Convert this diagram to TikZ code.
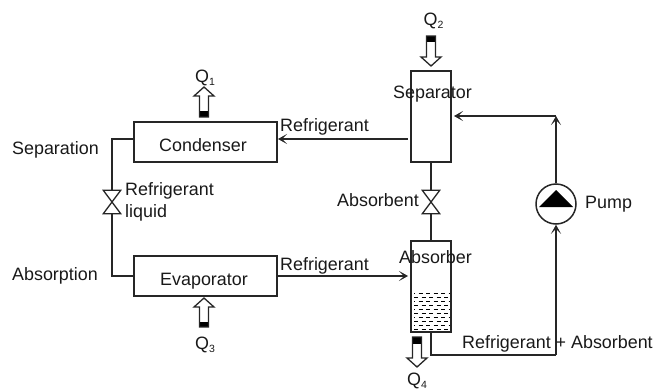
\documentclass[tikz,border=0pt]{standalone}
\usepackage{fontspec}
\setmainfont{Liberation Sans}
\usetikzlibrary{arrows.meta}
\newcommand{\hollowarrow}[5]{% x, tail y, tip y, black end y, name
  \pgfmathsetmacro{\dirn}{(#3>#2)?1:-1}
  \pgfmathsetmacro{\neck}{#3-\dirn*9}
  \coordinate (#5) at (#1,#3);
  \fill[black] (#1-4.5,#2) rectangle (#1+4.5,#4);
  \draw[lw] (#1-4.5,#2) -- (#1-4.5,\neck) -- (#1-10,\neck) -- (#5)
     -- (#1+10,\neck) -- (#1+4.5,\neck) -- (#1+4.5,#2) -- cycle;
}
\newcommand{\qsub}[1]{Q\raisebox{-3pt}{\fontsize{10.5}{12}\selectfont #1}}
\tikzset{
  lw/.style={line width=1.3pt,draw=black!85,line join=miter},
  unit/.style={draw=black!85,line width=1.5pt,inner sep=0pt,fill=none},
  txt/.style={font=\fontsize{17.9}{20}\selectfont,inner sep=0pt,text=black!90},
  valve/.style={minimum width=17pt,minimum height=23pt,inner sep=0pt},
  flow/.style={lw,-{Stealth[length=9pt,width=10pt,inset=5pt]}},
  liq/.style={draw=black,line width=0.8pt,dash pattern=on 4pt off 3.5pt},
}
\begin{document}
\begin{tikzpicture}[x=1pt,y=-1pt]
\useasboundingbox (0,0) rectangle (654,391);
% units
\node[unit,minimum width=143pt,minimum height=40pt] (cond) at (205.5,142) {};
\node[unit,minimum width=143pt,minimum height=40pt] (evap) at (205.5,276) {};
\node[unit,minimum width=40pt,minimum height=91pt] (sep) at (431,116.5) {};
\node[unit,minimum width=40pt,minimum height=91pt] (abs) at (431,286.5) {};
\node[circle,draw=black!85,line width=1.5pt,minimum size=40pt,inner sep=0pt] (pump) at (556,204) {};
\fill[black] (556,190) -- (573,207) -- (539,207) -- cycle;
% valves
\node[valve] (v1) at (112,202) {};
\node[valve] (v2) at (431,202) {};
\foreach \v in {v1,v2}
  \draw[lw] (\v.north west) -- (\v.north east) -- (\v.south west) -- (\v.south east) -- cycle;
% connector ends
\coordinate (cl) at (134,139);
\coordinate (cel) at (134,276);
\coordinate (cr) at (278,139);
\coordinate (er) at (277,276);
\coordinate (sl) at (408,139);
\coordinate (al) at (408,276);
\coordinate (sr) at (454,116);
\coordinate (ab) at (431,332);
\coordinate (jt) at (556,116);
\coordinate (jb) at (556,355);
% connectors
\draw[lw] (cl) -| (v1.north);
\draw[lw] (cel) -| (v1.south);
\draw[lw] (sep.south) -- (v2.north);
\draw[lw] (v2.south) -- (abs.north);
\draw[flow] (sl) -- (cr);
\draw[flow] (er) -- (al);
\draw[flow] (pump.north) -- (jt);
\draw[flow] (jt) -- (sr);
\draw[lw] (ab) |- (jb);
\draw[flow] (jb) -- (pump.south);
% hollow arrows
\hollowarrow{204}{117}{87}{111}{q1}
\hollowarrow{431}{36}{66}{42}{q2}
\hollowarrow{204}{327}{298}{322}{q3}
\hollowarrow{417}{337}{367}{344}{q4}
% absorber liquid
\foreach \y/\ph in {293/3,297/0,301/3,305/0,309/3,313/0,317/3,321/0,325/3,329/0}
  \draw[liq,dash phase=\ph pt] (414,\y) -- (449,\y);
% labels
\node[txt,anchor=base] (tq1) at (205,82) {\qsub{1}};
\node[txt,anchor=base] (tq2) at (433.5,25) {\qsub{2}};
\node[txt,anchor=base] (tq3) at (205,349) {\qsub{3}};
\node[txt,anchor=base] (tq4) at (417,385.5) {\qsub{4}};
\node[txt,anchor=base] (tc) at (203,151) {Condenser};
\node[txt,anchor=base] (te) at (204,285) {Evaporator};
\node[txt,anchor=base] (ts) at (432.5,98) {Separator};
\node[txt,anchor=base] (ta) at (435.5,263) {Absorber};
\node[txt,anchor=base west] (l1) at (12,154) {Separation};
\node[txt,anchor=base west] (l2) at (12,280) {Absorption};
\node[txt,anchor=base west] (l3) at (125,195) {Refrigerant};
\node[txt,anchor=base west] (l4) at (125,217) {liquid};
\node[txt,anchor=base west] (l5) at (280,131) {Refrigerant};
\node[txt,anchor=base west] (l6) at (280,270) {Refrigerant};
\node[txt,anchor=base west] (l7) at (337,206) {Absorbent};
\node[txt,anchor=base west] (l8) at (585,208) {Pump};
\node[txt,anchor=base west] (l9) at (462,348) {Refrigerant + Absorbent};
\end{tikzpicture}
\end{document}
